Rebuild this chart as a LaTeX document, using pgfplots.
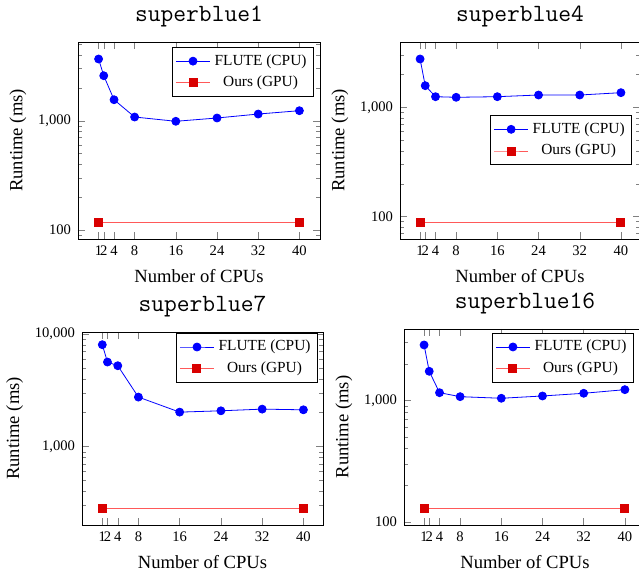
\documentclass[border=0pt]{standalone}
\usepackage{fontspec}
\setmainfont{Liberation Serif}
\usepackage{pgfplots}
\pgfplotsset{compat=1.18}
\pgfplotsset{
  every axis/.append style={
    scale only axis,
    log ticks with fixed point,
    /pgf/number format/assume math mode=true,
    /pgf/number format/1000 sep={,},
    xtick={1,2,4,8,16,24,32,40},
    tick label style={font=\fontsize{7.3}{8}\selectfont},
    label style={font=\fontsize{9.3}{10}\selectfont},
    xlabel={Number of CPUs},
    ylabel={Runtime (ms)},
    ylabel style={yshift=-1pt},
    title style={font=\ttfamily\fontsize{12.4}{13}\selectfont, yshift=-2pt},
    major tick length=3.5pt,
    minor tick length=2pt,
    legend style={font=\fontsize{7.7}{9}\selectfont, draw=black, inner sep=1.5pt, row sep=0pt},
    legend cell align=center,
  },
  cpuline/.style={blue, mark=*, mark options={fill=blue}, mark size=2pt},
  gpuline/.style={red!65, line width=0.5pt, mark=square*, mark options={fill=red!85!black, draw=red!85!black}, mark size=2pt},
}
\begin{document}
\begin{tikzpicture}
\begin{axis}[ymode=log, at={(39pt,-21pt)}, anchor=north west, width=121pt, height=98.5pt,
  xmin=-3, xmax=44, ymin=82.8, ymax=5250, title={superblue1},
  legend style={at={(0.975,0.975)}, anchor=north east}]
\addplot[cpuline] coordinates {(1,3669) (2,2580) (4,1556) (8,1081) (16,988) (24,1059) (32,1151) (40,1235)};
\addplot[gpuline] coordinates {(1,116.6) (40,116.6)};
\legend{FLUTE (CPU), Ours (GPU)}
\end{axis}
\begin{axis}[ymode=log, at={(200pt,-21pt)}, anchor=north west, width=120pt, height=98.5pt,
  xmin=-2.9, xmax=43.7, ymin=62.5, ymax=3954, title={superblue4},
  legend style={at={(0.967,0.629)}, anchor=north east}]
\addplot[cpuline] coordinates {(1,2764) (2,1576) (4,1250) (8,1234) (16,1250) (24,1295) (32,1295) (40,1360)};
\addplot[gpuline] coordinates {(1,88.1) (40,88.1)};
\legend{FLUTE (CPU), Ours (GPU)}
\end{axis}
\begin{axis}[ymode=log, at={(41pt,-166pt)}, anchor=north west, width=120.5pt, height=96.5pt,
  xmin=-2.94, xmax=43.8, ymin=201, ymax=10420, title={superblue7},
  legend style={at={(0.979,0.996)}, anchor=north east}]
\addplot[cpuline] coordinates {(1,8035) (2,5636) (4,5225) (8,2751) (16,2023) (24,2078) (32,2151) (40,2121)};
\addplot[gpuline] coordinates {(1,279) (40,279)};
\legend{FLUTE (CPU), Ours (GPU)}
\end{axis}
\begin{axis}[ymode=log, at={(202pt,-164.5pt)}, anchor=north west, width=121pt, height=98pt,
  xmin=-2.9, xmax=44.1, ymin=94, ymax=3865, title={superblue16},
  legend style={at={(0.95,0.981)}, anchor=north east}]
\addplot[cpuline] coordinates {(1,2855) (2,1733) (4,1155) (8,1071) (16,1039) (24,1085) (32,1142) (40,1223)};
\addplot[gpuline] coordinates {(1,128) (40,128)};
\legend{FLUTE (CPU), Ours (GPU)}
\end{axis}
\pgfresetboundingbox
\path[use as bounding box] (0,0) rectangle (319.5pt,-285.5pt);
\end{tikzpicture}
\end{document}
